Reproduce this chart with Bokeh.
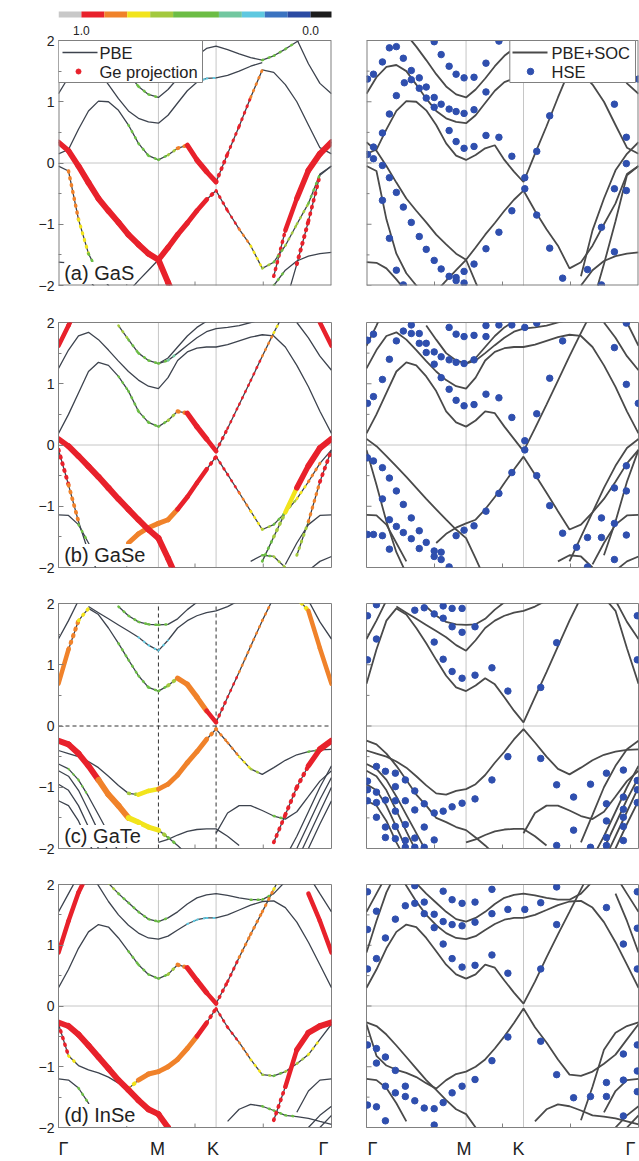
import math
import numpy as np
from bokeh.plotting import figure
from bokeh.layouts import column, row
from bokeh.models import Label, FixedTicker, Range1d, ColumnDataSource, CustomJSTickFormatter
from bokeh.embed import file_html
from bokeh.resources import INLINE

NA = None

# ---------------- k path (Gamma - M - K - Gamma) ----------------
K_PATH = [0.0, 0.1, 0.2, 0.3, 0.4, 0.5, 0.6, 0.7, 0.8, 0.9, 1.0,
          1.096, 1.192, 1.289, 1.385, 1.481, 1.577,
          1.692, 1.808, 1.923, 2.039, 2.154, 2.270, 2.385, 2.501, 2.616, 2.732]
K_SYM = [0.0, 1.0, 1.577, 2.732]
K_SYM_LABELS = ["Γ", "M", "K", "Γ"]
K_END = 2.732
X_TICKS = [0.683, 1.366, 2.049]
Y_TICKS = [-2, -1, 0, 1, 2]
Y_MINOR = [-1.5, -0.5, 0.5, 1.5]

# colour bar (Ge projection weight)
CBAR_COLORS = ["#c8c8c8", "#e8212b", "#f0822a", "#f2e41c", "#a3c93e", "#6cbd45",
               "#72c7a0", "#5ec8e0", "#3b73c0", "#2b4aa2", "#1c1c1c"]
CBAR_UNITS = [1, 1, 1, 1, 1, 2, 1, 1, 1, 1, 1]
CBAR_EDGES = [0.9, 0.8, 0.7, 0.6, 0.4, 0.3, 0.2, 0.1, 0.0]
CBAR_LABELS = ["1.0", "0.0"]

PANEL_LABELS = ["(a) GaS", "(b) GaSe", "(c) GaTe", "(d) InSe"]

# band = [start index on K_PATH, energies, Ge weight (colour), dot size]
# ---------------- GaS ----------------
GAS_VB1 = [0, [0.34, 0.2, -0.05, -0.32, -0.58, -0.78, -0.97, -1.17, -1.33, -1.48, -1.58,
               -1.38, -1.17, -0.98, -0.78, -0.6, -0.45,
               -0.78, -1.08, -1.35, -1.72, -1.62, -1.35, -1.0, -0.66, -0.18, -0.05],
           [1, 1, 1, 1, 1, 1, 1, 1, 1, 1, 1, 1, 1, 1, 1, 1, 1,
            0.95, 0.9, 0.85, 0.72, 0.6, 0.55, 0.7, 0.55, 0.5, NA],
           [5, 5.5, 6, 6, 6, 6, 6, 6, 6, 6, 6, 5.5, 5.5, 5, 5, 4.5, 3.5,
            2.5, 2.5, 2.5, 2.5, 2.5, 2.5, 2.5, 2.5, 2.5, NA]]
GAS_VB0R = [21, [-1.85, -1.1, -0.58, -0.12, 0.15, 0.34], [0.85, 0.95, 1, 1, 1, 1], [3, 4, 5, 6, 6, 6]]
GAS_VB2 = [0, [-0.05, -0.13, -0.92, -1.48, -1.8, -2.0, -2.2],
           [NA, 0.85, 0.85, 0.6, 0.5, NA, NA], [NA, 3.5, 3.5, 3, 2.5, NA, NA]]
GAS_VB2R = [22, [-2.3, -1.65, -0.95, -0.2, -0.05], [NA, 0.85, 1, 1, NA], [NA, 4, 4, 3.5, NA]]
GAS_VB3 = [0, [-1.62, -1.63, -1.72, -1.9, -2.1], None, None]
GAS_VB3R = [21, [-2.0, -1.75, -1.6, -1.52, -1.48, -1.46], [0.6, 0.55, NA, NA, NA, NA], [2.5, 2.5, NA, NA, NA, NA]]
GAS_VB4 = [7, [-2.1, -1.92, -1.75, -1.58, -1.95, -2.3], [NA, NA, NA, 1, 1, 1], [NA, NA, NA, 6, 6, 6]]
GAS_CB1 = [0, [0.15, 0.22, 0.55, 0.85, 1.01, 1.0, 0.86, 0.62, 0.32, 0.12, 0.05,
               0.13, 0.24, 0.29, 0.05, -0.14, -0.31,
               0.15, 0.6, 1.07, 1.52, 1.48, 1.28, 1.0, 0.62, 0.25, 0.15],
           [NA, NA, NA, NA, NA, NA, NA, 0.5, 0.5, 0.55, 0.55, 0.6, 0.75, 0.88, 1, 1, 1,
            1, 1, 0.9, 0.75, NA, NA, NA, NA, NA, NA],
           [NA, NA, NA, NA, NA, NA, NA, 2.5, 2.5, 2.5, 2.5, 2.5, 3, 4.5, 5.5, 5.5, 4.5,
            3, 3, 3, 2.5, NA, NA, NA, NA, NA, NA]]
GAS_CB2 = [0, [1.13, 1.4, 1.57, 1.6, 1.5, 1.28, 1.05, 0.85, 0.73, 0.67, 0.65,
               0.78, 0.98, 1.18, 1.32, 1.38, 1.39, 1.43, 1.5, 1.58, 1.64],
           [NA] * 14 + [0.25, 0.25, 0.25, NA, NA, NA, NA],
           [NA] * 14 + [2, 2, 2, NA, NA, NA, NA]]
GAS_CB2R = [22, [2.3, 2.02, 1.62, 1.3, 1.13], None, None]
GAS_CB3 = [4, [2.1, 1.9, 1.68, 1.45, 1.25, 1.12, 1.07, 1.2, 1.38, 1.58, 1.75, 1.87, 1.91,
               1.85, 1.78, 1.72, 1.68, 1.75, 1.86, 1.98, 2.1],
           [0.5] * 7 + [NA] * 9 + [0.5, 0.5, 0.5, 0.5, NA],
           [2.5] * 7 + [NA] * 9 + [2.5, 2.5, 2.5, 2.5, NA]]
GAS_HSE = [(0.01, 1.37), (0.07, 1.45), (0.16, 1.65), (0.23, 1.88), (0.30, 1.90), (0.37, 1.71),
           (0.45, 1.51), (0.45, 1.36), (0.53, 1.39), (0.38, 1.31), (0.30, 1.10), (0.53, 1.22),
           (0.60, 1.24), (0.60, 1.06), (0.68, 1.07), (0.68, 1.98), (0.75, 1.77), (0.83, 1.58),
           (0.90, 1.45), (0.98, 1.39), (1.08, 1.40), (1.20, 1.63), (1.33, 1.99),
           (0.68, 0.91), (0.75, 0.96), (0.83, 0.88), (0.90, 0.84), (0.98, 0.81), (1.08, 0.87),
           (1.20, 1.16), (0.23, 0.80), (0.16, 0.49), (0.83, 0.53), (0.90, 0.35), (0.98, 0.24),
           (1.08, 0.27), (1.20, 0.45), (1.33, 0.42), (1.46, 0.11), (1.71, 0.19), (1.84, 0.77),
           (2.49, 0.96), (2.61, 0.42),
           (0.01, 0.14), (0.07, 0.26), (0.16, -0.04), (0.23, -0.24), (0.16, -0.61), (0.30, -0.48),
           (0.37, -0.72), (0.45, -0.97), (0.53, -1.20), (0.60, -1.41), (0.68, -1.59), (0.75, -1.73),
           (0.83, -1.85), (0.90, -1.87), (0.90, -1.92), (0.98, -1.77), (0.98, -1.96), (1.08, -1.65),
           (1.20, -1.40), (1.33, -1.13), (1.46, -0.78), (1.59, -0.42), (1.59, -0.24), (1.71, -0.85),
           (1.84, -1.39), (1.97, -1.88), (2.22, -1.74), (2.36, -1.05), (2.49, -1.45), (2.49, -0.42),
           (2.61, -0.45), (2.61, -0.01), (2.73, 1.37), (0.23, -1.23), (0.30, -1.75), (0.37, -1.99),
           (2.36, -1.99), (0.07, 0.07)]

# ---------------- GaSe ----------------
GASE_VB1 = [0, [0.1, -0.02, -0.18, -0.35, -0.52, -0.7, -0.88, -1.05, -1.22, -1.38, -1.52, -1.85, -2.2],
            [1] * 13, [5, 6, 6, 6, 6, 6, 6, 6, 6, 6, 6, 6, 6]]
GASE_VBMK = [7, [-1.6, -1.45, -1.35, -1.28, -1.22, -1.05, -0.85, -0.62, -0.4, -0.19,
                 -0.48, -0.78, -1.08, -1.38, -1.3, -1.1, -0.88, -0.6, -0.3, -0.08],
             [0.85, 0.85, 0.85, 0.85, 0.85, 0.85, 1, 1, 1, 1,
              1, 0.9, 0.85, 0.72, 0.55, 0.55, 0.72, 0.85, 0.9, NA],
             [5, 5, 5, 5, 5, 5, 4.5, 4.5, 4.5, 3,
              2.5, 2.5, 2.5, 2.5, 2.5, 2.5, 2.5, 3, 3, NA]]
GASE_VB0R = [20, [-1.9, -1.5, -1.1, -0.7, -0.34, -0.05, 0.1],
             [0.5, 0.55, 0.72, 0.85, 1, 1, 1], [2.5, 3, 4, 5, 6, 6, 6]]
GASE_VB2 = [0, [-0.08, -0.65, -1.25, -1.75, -2.1], [1, 1, 0.72, NA, NA], [4, 4, 3.5, NA, NA]]
GASE_VB2R = [23, [-1.8, -1.25, -0.6, -0.08], [0.55, 0.72, 0.9, 1], [3, 3, 3.5, 4]]
GASE_VB3 = [0, [-1.14, -1.15, -1.3, -1.6, -1.9], [NA, NA, 0.5, 0.5, NA], [NA, NA, 2.5, 2.5, NA]]
GASE_VB3R = [22, [-1.95, -1.6, -1.3, -1.15, -1.14], None, None]
GASE_VB5 = [19, [-1.9, -1.8, -1.82, -2.0], [NA, 0.55, 0.55, 0.72], [NA, 2.5, 2.5, 2.5]]
GASE_VB6 = [24, [-2.05, -1.9, -1.82], None, None]
GASE_CB1 = [0, [0.19, 0.5, 0.85, 1.2, 1.35, 1.3, 1.12, 0.88, 0.55, 0.37, 0.3,
                0.4, 0.55, 0.52, 0.3, 0.1, -0.1, 0.27, 0.66, 1.05, 1.45, 1.83, 2.2],
            [NA] * 6 + [0.35, 0.5, 0.5, 0.5, 0.5, 0.55, 0.72, 0.9, 1, 1, 1, 1, 1, 1, 0.9, 0.85, 0.55],
            [NA] * 6 + [2, 2.5, 2.5, 2.5, 2.5, 2.5, 3.5, 5, 5.5, 5.5, 4, 2.5, 2.5, 2.5, 2.5, 2.5, 2.5]]
GASE_CB2 = [0, [1.25, 1.55, 1.78, 1.84, 1.72, 1.55, 1.37, 1.2, 1.06, 0.96, 0.92,
                1.1, 1.38, 1.52, 1.58, 1.6, 1.6, 1.64, 1.7, 1.76, 1.8, 1.78, 1.6, 1.3, 0.95, 0.55, 0.19],
            None, None]
GASE_CB2R = [23, [2.0, 1.75, 1.45, 1.22], None, None]
GASE_CB3 = [6, [1.95, 1.72, 1.5, 1.38, 1.33, 1.38, 1.5, 1.63, 1.75, 1.85, 1.9, 1.92, 1.95, 2.0, 2.05],
            [0.75, 0.6, 0.5, 0.5, 0.5, 0.4, 0.35] + [NA] * 8, [2.5] * 7 + [NA] * 8]
GASE_CB4 = [10, [1.33, 1.42, 1.6, 1.78, 1.92, 2.02, 2.1], None, None]
GASE_CB5 = [0, [1.62, 1.95, 2.3], [1, 1, 1], [4.5, 4.5, 4.5]]
GASE_CB5R = [25, [2.0, 1.62], [1, 1], [4.5, 4.5]]
GASE_HSE = [(0.01, 1.71), (0.07, 1.81), (0.16, 1.07), (0.23, 1.40), (0.30, 1.70), (0.37, 1.86),
            (0.45, 1.96), (0.45, 1.82), (0.53, 1.82), (0.53, 1.66), (0.60, 1.66), (0.60, 1.51),
            (0.68, 1.52), (0.68, 1.32), (0.75, 1.44), (0.75, 1.10), (0.83, 1.39), (0.83, 1.92),
            (0.90, 1.35), (0.90, 1.81), (0.98, 1.33), (0.98, 1.77), (1.08, 1.39), (1.08, 1.79),
            (1.20, 1.95), (1.20, 1.77), (1.33, 1.96), (1.46, 1.96), (1.59, 1.92), (1.71, 1.99),
            (1.97, 1.70), (1.84, 1.09), (2.49, 1.59), (2.61, 1.99), (2.61, 0.99), (2.73, 0.68),
            (0.07, 0.79), (0.01, 0.68), (0.83, 0.91), (0.90, 0.73), (0.98, 0.64), (1.08, 0.66),
            (1.20, 0.83), (1.33, 0.77), (1.46, 0.45), (1.71, 0.51), (1.59, 0.07), (1.59, -0.08),
            (0.01, -0.21), (0.07, -0.26), (0.16, -0.37), (0.23, -0.54), (0.30, -0.75), (0.16, -0.88),
            (0.37, -0.97), (0.45, -1.19), (0.53, -1.40), (0.60, -1.59), (0.68, -1.73), (0.75, -1.75),
            (0.75, -1.87), (0.83, -1.99), (0.68, -1.82), (0.23, -1.22), (0.30, -1.33), (0.37, -1.43),
            (0.45, -1.53), (0.53, -1.69), (0.23, -1.70), (0.01, -1.46), (0.07, -1.46), (0.16, -1.48),
            (0.90, -1.48), (0.98, -1.39), (1.08, -1.32), (1.20, -1.08), (1.33, -0.79), (1.46, -0.45),
            (1.71, -0.50), (1.84, -0.99), (1.97, -1.44), (2.11, -1.67), (2.22, -1.51), (2.22, -1.99),
            (2.36, -1.51), (2.36, -1.19), (2.49, -0.70), (2.49, -1.28), (2.49, -1.87), (2.61, -0.75),
            (2.61, -0.34), (2.61, -1.47)]

# ---------------- GaTe ----------------
GATE_CB1 = [0, [0.69, 1.25, 1.72, 1.92, 1.82, 1.6, 1.35, 1.08, 0.82, 0.63, 0.57,
                0.66, 0.78, 0.68, 0.47, 0.25, 0.06, 0.47, 0.88, 1.3, 1.72, 2.1],
            [0.85, 0.85, 0.8, 0.72, NA, NA, 0.4, 0.5, 0.5, 0.5, 0.5, 0.55, 0.8, 0.85, 0.85, 0.9, 1,
             1, 0.85, 0.85, 0.85, 0.85],
            [4.5, 4.5, 4, 3, NA, NA, 2.5, 2.5, 2.5, 2.5, 2.5, 2.5, 5, 5.5, 5.5, 5, 4,
             2.5, 2.5, 2.5, 2.5, 2.5]]
GATE_CB1R = [23, [2.1, 1.88, 1.27, 0.69], [0.72, 0.85, 0.85, 0.85], [4, 4.5, 4.5, 4.5]]
GATE_CB2 = [0, [1.42, 1.72, 2.05], None, None]
GATE_CB2R = [24, [2.05, 1.7, 1.42], None, None]
GATE_CB3 = [3, [1.95, 1.85, 1.75, 1.65, 1.55, 1.45, 1.32, 1.23, 1.4, 1.6, 1.72, 1.8, 1.85, 1.88, 1.95, 2.05],
            [NA] * 5 + [0.3, 0.25, 0.25, 0.3] + [NA] * 7, [NA] * 5 + [2, 2, 2, 2] + [NA] * 7]
GATE_CB4 = [6, [1.95, 1.8, 1.7, 1.66, 1.65, 1.66, 1.75, 1.9, 2.02], [0.5] * 6 + [NA] * 3, [2.5] * 6 + [NA] * 3]
GATE_VB1 = [0, [-0.24, -0.3, -0.45, -0.65, -0.88, -1.12, -1.3, -1.5, -1.57, -1.65, -1.7, -1.82, -1.95, -2.1],
            [1, 1, 1, 1, 0.85, 0.85, 0.85, 0.75, 0.75, 0.75, 0.72, 0.55, 0.5, NA],
            [6, 6, 6, 6, 6, 6, 6, 6, 5, 5, 5, 3, 3, NA]]
GATE_VB2 = [0, [-0.4, -0.45, -0.5, -0.58, -0.68, -0.82, -0.97, -1.1, -1.12, -1.06, -1.03,
                -0.95, -0.8, -0.6, -0.42, -0.22, -0.05,
                -0.27, -0.5, -0.7, -0.79, -0.68, -0.56, -0.47, -0.42, -0.39, -0.38],
            [NA] * 7 + [0.55, 0.75, 0.75, 0.75, 0.85, 0.85, 0.85, 0.85, 0.85, 0.9, 0.85, 0.8, 0.72, 0.55,
                        NA, NA, NA, 0.5, 0.3, NA],
            [NA] * 7 + [2.5, 4.5, 4.5, 4.5, 5, 5, 5, 5, 5, 3, 2.5, 2.5, 2.5, 2.5,
                        NA, NA, NA, 2.5, 2.5, NA]]
GATE_VB1R = [21, [-1.9, -1.45, -1.0, -0.65, -0.38, -0.24], [0.85, 1, 1, 1, 1, 1], [3.5, 4, 4, 4.5, 6, 6]]
GATE_VB3 = [16, [-1.75, -1.42, -1.3, -1.3, -1.38, -1.47, -1.52, -1.4, -1.15, -0.9, -0.73],
            [NA] * 5 + [0.5, 0.5] + [NA] * 4, [NA] * 5 + [2.5, 2.5] + [NA] * 4]
GATE_VB4 = [10, [-1.9, -1.85, -1.78, -1.72, -1.69, -1.68, -1.68, -1.8, -1.95], None, None]
GATE_VB5 = [0, [-0.62, -0.7, -0.88, -1.15, -1.45, -1.75, -2.05], [NA, 0.5, 0.5, 0.5, NA, NA, NA],
            [NA, 2, 2, 2, NA, NA, NA]]
GATE_VB6 = [0, [-0.73, -0.82, -1.05, -1.38, -1.72, -2.05], None, None]
GATE_VB7 = [0, [-0.95, -1.05, -1.3, -1.65, -2.0], None, None]
GATE_VB8 = [0, [-1.22, -1.3, -1.55, -1.9, -2.2], None, None]
GATE_VB5R = [22, [-2.15, -1.8, -1.4, -1.0, -0.65], None, None]
GATE_VB6R = [23, [-2.0, -1.6, -1.2, -0.84], None, None]
GATE_VB7R = [23, [-2.2, -1.8, -1.4, -1.0], None, None]
GATE_VB8R = [24, [-2.0, -1.6, -1.22], None, None]
GATE_HSE = [(0.01, 1.80), (0.10, 1.98), (0.01, 1.08), (0.10, 1.42), (0.485, 1.89), (0.58, 1.93),
            (0.68, 1.83), (0.77, 1.96), (0.77, 1.76), (0.86, 1.92), (0.96, 1.92), (0.86, 1.62),
            (0.96, 1.53), (1.09, 1.62), (0.68, 1.37), (0.77, 1.09), (0.86, 0.89), (0.96, 0.78),
            (1.09, 0.83), (1.26, 0.95), (1.42, 0.57), (1.75, 0.63), (1.91, 1.36), (2.72, 1.80),
            (2.72, 1.08),
            (0.01, -0.90), (0.01, -1.04), (0.01, -1.22), (0.10, -0.66), (0.10, -1.08), (0.10, -1.25),
            (0.10, -1.49), (0.19, -0.74), (0.19, -1.21), (0.19, -1.65), (0.19, -1.82), (0.29, -0.77),
            (0.29, -0.99), (0.29, -1.22), (0.29, -1.39), (0.29, -1.64), (0.29, -1.84), (0.39, -0.88),
            (0.39, -1.22), (0.39, -1.61), (0.39, -1.87), (0.39, -1.98), (0.485, -1.06), (0.485, -1.37),
            (0.485, -1.83), (0.485, -1.98), (0.58, -1.27), (0.58, -1.65), (0.58, -1.98), (0.68, -1.42),
            (0.68, -1.86), (0.77, -1.39), (0.86, -1.32), (0.96, -1.26), (1.09, -1.19), (1.26, -0.88),
            (1.42, -0.50), (1.75, -0.53), (1.91, -0.96), (2.08, -1.16), (2.08, -1.70), (2.25, -0.95),
            (1.91, -1.95), (2.25, -1.98), (2.41, -0.77), (2.41, -1.27), (2.41, -1.55), (2.41, -1.82),
            (2.41, -1.95), (2.58, -0.72), (2.58, -1.16), (2.58, -1.36), (2.58, -1.49), (2.58, -1.64),
            (2.58, -1.87), (2.72, -0.89), (2.72, -1.04), (2.72, -1.25)]

# ---------------- InSe ----------------
INSE_CB1 = [0, [0.3, 0.6, 0.95, 1.22, 1.34, 1.3, 1.12, 0.9, 0.68, 0.52, 0.45,
                0.52, 0.68, 0.63, 0.42, 0.22, 0.04, 0.4, 0.8, 1.18, 1.55, 1.92, 2.3],
            [NA] * 7 + [0.5, 0.5, 0.5, 0.5, 0.55, 0.72, 0.95, 1, 1, 1, 1, 0.9, 0.85, 0.85, 0.85, 0.72],
            [NA] * 7 + [2.5, 2.5, 2.5, 2.5, 2.5, 3.5, 5, 5.5, 5, 4, 3, 3, 3, 3, 3, 3]]
INSE_CB2 = [3, [2.25, 1.98, 1.72, 1.5, 1.33, 1.2, 1.12, 1.1, 1.15, 1.25, 1.35, 1.42, 1.45,
                1.45, 1.5, 1.58, 1.66, 1.72, 1.73, 1.62, 1.38, 1.05, 0.68, 0.3],
            [NA] * 10 + [0.25, 0.25, 0.25, 0.25] + [NA] * 10,
            [NA] * 10 + [2, 2, 2, 2] + [NA] * 10]
INSE_CB3 = [5, [2.02, 1.85, 1.7, 1.55, 1.43, 1.39, 1.45, 1.55, 1.68, 1.78, 1.83, 1.85,
                1.82, 1.78, 1.75, 1.75, 1.85, 2.05],
            [0.75, 0.5, 0.5, 0.5, 0.5, 0.5, 0.45] + [NA] * 7 + [0.5, 0.5, 0.5, NA],
            [2.5] * 7 + [NA] * 7 + [2.5, 2.5, 2.5, NA]]
INSE_CBG = [0, [0.88, 1.4, 1.87, 2.2], [0.85, 1, 1, 1], [4.5, 4.5, 4.5, 4.5]]
INSE_CBGR = [24, [1.85, 1.4, 0.88], [1, 1, 0.85], [4.5, 4.5, 4.5]]
INSE_CBG2 = [0, [1.55, 1.85, 2.15], None, None]
INSE_CBG2R = [24, [2.15, 1.85, 1.55], None, None]
INSE_VB1 = [0, [-0.27, -0.33, -0.47, -0.65, -0.84, -1.03, -1.22, -1.38, -1.55, -1.7, -1.78, -2.0, -2.3],
            [1] * 13, [5, 6, 6, 6, 6, 6, 6, 6, 6, 6, 6, 6, 6]]
INSE_VB2 = [0, [-0.3, -0.82, -0.98, -1.05, -1.1, -1.17, -1.27, -1.36, -1.22, -1.12, -1.08,
                -1.0, -0.88, -0.7, -0.5, -0.28, -0.04,
                -0.35, -0.6, -0.88, -1.13, -1.15, -1.08, -0.95, -0.8, -0.55, -0.3],
            [1, 0.85, 0.6, NA, NA, NA, NA, 0.6, 0.85, 0.85, 0.85, 0.85, 0.85, 0.85, 0.85, 0.95, 1,
             1, 0.85, 0.8, 0.72, 0.55, 0.5, 0.72, 0.55, 0.85, NA],
            [3.5, 3.5, 2.5, NA, NA, NA, NA, 3, 5, 5, 5, 5, 5, 5, 5, 4.5, 3,
             2.5, 2.5, 2.5, 2.5, 2.5, 2.5, 2.5, 2.5, 2.5, NA]]
INSE_VB1R = [21, [-1.88, -1.33, -0.72, -0.44, -0.33, -0.27], [0.85, 1, 1, 1, 1, 1], [3.5, 4, 5, 6, 6, 6]]
INSE_VB3 = [0, [-1.2, -1.22, -1.35, -1.6, -1.9], [NA, NA, 0.5, 0.5, NA], [NA, NA, 2.5, 2.5, NA]]
INSE_VB3R = [23, [-1.75, -1.4, -1.22, -1.2], None, None]
INSE_VB4 = [17, [-1.9, -1.7, -1.62, -1.65, -1.72, -1.8, -1.82, -1.85, -1.9, -1.95],
            [NA, NA, NA, 0.5, 0.5, 0.5, 0.5, NA, NA, NA], [NA] * 3 + [2.5] * 4 + [NA] * 3]
INSE_VB5 = [24, [-2.0, -1.8, -1.65], None, None]
INSE_VB6 = [25, [-2.0, -1.8], None, None]
INSE_HSE = [(0.01, 1.88), (0.10, 1.56), (0.01, 1.26), (0.19, 1.12), (0.29, 1.43), (0.39, 1.65),
            (0.485, 1.69), (0.485, 1.98), (0.58, 1.71), (0.58, 1.52), (0.68, 1.51), (0.68, 1.29),
            (0.77, 1.39), (0.77, 1.89), (0.86, 1.75), (0.86, 1.34), (0.96, 1.69), (0.96, 1.32),
            (1.09, 1.71), (1.09, 1.38), (1.26, 1.92), (1.26, 1.52), (1.42, 1.59), (1.59, 1.59),
            (1.75, 1.70), (1.91, 1.34), (1.91, 1.96), (2.41, 1.62), (2.58, 1.02), (2.72, 1.88),
            (2.72, 1.28), (0.01, 0.61), (0.10, 0.78), (0.77, 1.02), (0.86, 0.78), (0.96, 0.64),
            (1.09, 0.67), (1.26, 0.84), (1.42, 0.54), (1.75, 0.61), (2.72, 0.61),
            (0.01, -0.64), (0.10, -0.70), (0.19, -0.84), (0.10, -0.94), (0.29, -1.06), (0.19, -1.32),
            (0.29, -1.43), (0.39, -1.32), (0.39, -1.49), (0.485, -1.56), (0.58, -1.68), (0.68, -1.69),
            (0.68, -1.96), (0.77, -1.59), (0.86, -1.43), (0.96, -1.32), (1.09, -1.21), (1.26, -0.90),
            (1.42, -0.51), (1.75, -0.58), (1.91, -1.13), (2.08, -1.51), (2.25, -1.49), (2.41, -1.26),
            (2.41, -1.49), (2.58, -0.79), (2.58, -1.22), (2.58, -1.81), (2.72, -0.64), (2.72, -1.07),
            (2.72, -1.41), (0.01, -1.63), (0.10, -1.66), (0.19, -1.89)]

GAS_BANDS = [GAS_VB3, GAS_VB3R, GAS_CB2, GAS_CB2R, GAS_CB3, GAS_VB4, GAS_VB2, GAS_VB2R,
             GAS_VB0R, GAS_CB1, GAS_VB1]
GASE_BANDS = [GASE_VB3, GASE_VB3R, GASE_VB5, GASE_VB6, GASE_CB2, GASE_CB2R, GASE_CB3, GASE_CB4,
              GASE_CB5, GASE_CB5R, GASE_VB2, GASE_VB2R, GASE_VB0R, GASE_VBMK, GASE_CB1, GASE_VB1]
GATE_BANDS = [GATE_VB8, GATE_VB7, GATE_VB6, GATE_VB5, GATE_VB8R, GATE_VB7R, GATE_VB6R, GATE_VB5R,
              GATE_VB4, GATE_VB3, GATE_CB2, GATE_CB2R, GATE_CB3, GATE_CB4, GATE_CB1R, GATE_VB1R,
              GATE_VB2, GATE_CB1, GATE_VB1]
INSE_BANDS = [INSE_VB6, INSE_VB5, INSE_VB4, INSE_VB3, INSE_VB3R, INSE_CBG2, INSE_CBG2R, INSE_CB2,
              INSE_CB3, INSE_CBG, INSE_CBGR, INSE_VB1R, INSE_VB2, INSE_CB1, INSE_VB1]

MATERIALS = [(GAS_BANDS, GAS_HSE), (GASE_BANDS, GASE_HSE), (GATE_BANDS, GATE_HSE), (INSE_BANDS, INSE_HSE)]

# ---------------- layout constants ----------------
FRAME_H = 245
TOP_EXT = 40            # colour-bar strip above the first row
TOP_B = [40, 8, 8, 8]
BOTTOM_B = [29, 28, 28, 32]
FONT = "Liberation Sans"
TXT = "#222222"
AX = "#808080"
HSE_COLOR = "#2f4fae"


def wcolor(w):
    if w > 1.0:
        return CBAR_COLORS[0]
    for i, e in enumerate(CBAR_EDGES):
        if w >= e - 1e-9:
            return CBAR_COLORS[i + 1]
    return CBAR_COLORS[-1]


def px_k(px, fw):
    return px * K_END / fw


def px_e(py):
    return 2.0 - py * 4.0 / FRAME_H


def make_panel(r, left):
    bands, hse = MATERIALS[r]
    fw = 273 if left else 272
    ext = (r == 0)
    height = TOP_B[r] + FRAME_H + BOTTOM_B[r]
    y_top = px_e(-TOP_EXT) if ext else 2.0
    p = figure(width=333 if left else 306, height=height,
               x_range=Range1d(0, K_END), y_range=Range1d(-2, y_top),
               toolbar_location=None, output_backend="svg", title=None,
               x_axis_location="below" if r == 3 else None,
               y_axis_location="left" if left else None,
               min_border_left=58 if left else 33, min_border_right=2 if left else 1,
               min_border_top=0 if ext else TOP_B[r], min_border_bottom=BOTTOM_B[r])
    p.grid.visible = False
    p.background_fill_color = "white"
    p.border_fill_color = "white"
    p.outline_line_color = None if ext else AX
    p.outline_line_width = 1

    if left:
        ya = p.yaxis[0]
        ya.ticker = FixedTicker(ticks=Y_TICKS, minor_ticks=Y_MINOR)
        ya.major_tick_in = 5
        ya.major_tick_out = 0
        ya.minor_tick_in = 3
        ya.minor_tick_out = 0
        ya.axis_line_color = None if ext else AX
        ya.major_tick_line_color = AX
        ya.minor_tick_line_color = AX
        ya.major_label_text_font_size = "14px"
        ya.major_label_text_font = FONT
        ya.major_label_text_color = TXT
        ya.major_label_standoff = 4
        p.add_layout(Label(x=px_k(-36, fw), y=0.0, text="Energy (eV)", angle=math.pi / 2,
                           text_font=FONT, text_font_size="21px", text_color=TXT,
                           text_align="center", text_baseline="middle"))
    else:
        p.segment([0] * 5, Y_TICKS, [px_k(5, fw)] * 5, Y_TICKS, line_color=AX, line_width=1)
        p.segment([0] * 4, Y_MINOR, [px_k(3, fw)] * 4, Y_MINOR, line_color=AX, line_width=1)
    p.segment(X_TICKS, [-2] * 3, X_TICKS, [px_e(FRAME_H - 4)] * 3, line_color=AX, line_width=1)

    # high-symmetry labels on the last row's axis
    if r == 3:
        offs = [5, -1, -3, -8] if left else [6, -2, -5, -8]
        pos = [round(k + px_k(o, fw), 4) for k, o in zip(K_SYM, offs)]
        xa = p.xaxis[0]
        xa.ticker = FixedTicker(ticks=pos, minor_ticks=[])
        xa.formatter = CustomJSTickFormatter(args=dict(labels=K_SYM_LABELS), code="return labels[index];")
        xa.major_tick_in = 0
        xa.major_tick_out = 0
        xa.minor_tick_in = 0
        xa.minor_tick_out = 0
        xa.major_tick_line_color = None
        xa.minor_tick_line_color = None
        xa.axis_line_color = AX
        xa.major_label_text_font = FONT
        xa.major_label_text_font_size = "18px"
        xa.major_label_text_color = TXT
        xa.major_label_standoff = 11

    # guide lines at M, K and E = 0
    if left and r == 2:
        gcol, gdash = "#333333", "4 3"
    else:
        gcol, gdash = "#8c8c8c", "1 1"
    for k in K_SYM[1:3]:
        p.line([k, k], [-2, 2], line_color=gcol, line_dash=gdash, line_width=1)
    p.line([0, K_END], [0, 0], line_color=gcol, line_dash=gdash, line_width=1)

    lcol = "#3d434e" if left else "#4a4a4a"
    lw = 1.3 if left else 1.8
    for start, es, ws, ss in bands:
        ks = K_PATH[start:start + len(es)]
        ys = [np.nan if e is None else e for e in es]
        p.line(ks, ys, line_color=lcol, line_width=lw)

    if left:
        solid = dict(x0=[], y0=[], x1=[], y1=[], c=[], lw=[])
        dotted = dict(x0=[], y0=[], x1=[], y1=[], c=[], lw=[])
        for start, es, ws, ss in bands:
            if ws is None:
                continue
            for i in range(len(es) - 1):
                if ws[i] is None or ws[i + 1] is None or es[i] is None or es[i + 1] is None:
                    continue
                w = 0.5 * (ws[i] + ws[i + 1])
                s = 0.5 * (ss[i] + ss[i + 1])
                tgt = solid if s >= 4.5 else dotted
                tgt["x0"].append(K_PATH[start + i])
                tgt["y0"].append(es[i])
                tgt["x1"].append(K_PATH[start + i + 1])
                tgt["y1"].append(es[i + 1])
                tgt["c"].append(wcolor(w))
                tgt["lw"].append(s)
        p.segment("x0", "y0", "x1", "y1", source=ColumnDataSource(dotted), line_color="c",
                  line_width="lw", line_cap="round", line_dash="1 6")
        p.segment("x0", "y0", "x1", "y1", source=ColumnDataSource(solid), line_color="c",
                  line_width="lw", line_cap="round")
        p.add_layout(Label(x=px_k(5.7, fw), y=px_e(FRAME_H - 12.5), text=PANEL_LABELS[r], text_font=FONT,
                           text_font_size="20px", text_color=TXT, text_baseline="middle",
                           background_fill_color="white", background_fill_alpha=1.0))
    else:
        hk = [a for a, b in hse]
        he = [b for a, b in hse]
        p.scatter(hk, he, size=6.5, fill_color=HSE_COLOR, line_color=HSE_COLOR)

    if ext:
        # white strip above the frame hides anything beyond E = 2, then frame box
        p.quad(left=[0], right=[K_END], bottom=[2.0], top=[y_top], fill_color="white", line_color=None)
        p.segment([0, K_END, 0, 0], [-2, -2, 2, -2], [0, K_END, K_END, K_END], [2, 2, 2, -2],
                  line_color=AX, line_width=[2, 2, 1, 2])
        if left:
            edges = [0.0]
            for u in CBAR_UNITS:
                edges.append(edges[-1] + u * 22.92)
            p.quad(left=[px_k(e, fw) for e in edges[:-1]], right=[px_k(e, fw) for e in edges[1:]],
                   top=[px_e(-29)] * len(CBAR_COLORS), bottom=[px_e(-23)] * len(CBAR_COLORS),
                   fill_color=CBAR_COLORS, line_color=None)
            for lab, xe in zip(CBAR_LABELS, [edges[1], edges[-2]]):
                p.add_layout(Label(x=px_k(xe, fw), y=px_e(-10.3), text=lab, text_font=FONT,
                                   text_font_size="12px", text_color=TXT, text_align="center",
                                   text_baseline="middle"))

    # legends (first row)
    if r == 0:
        if left:
            bx0, bx1, lx0, lx1, tx, dx = 0, 144, 4, 39, 41, 20
            names = ["PBE", "Ge projection"]
            dcol, dsize = CBAR_COLORS[1], 5
        else:
            bx0, bx1, lx0, lx1, tx, dx = 143.3, 269, 146, 181, 185, 164
            names = ["PBE+SOC", "HSE"]
            dcol, dsize = HSE_COLOR, 6.5
        p.quad(left=[px_k(bx0, fw)], right=[px_k(bx1, fw)], top=[2.0], bottom=[px_e(42)],
               fill_color="white", line_color=AX, line_width=1)
        p.line([px_k(lx0, fw), px_k(lx1, fw)], [px_e(12), px_e(12)], line_color=lcol, line_width=lw)
        p.scatter([px_k(dx, fw)], [px_e(31)], size=dsize, fill_color=dcol, line_color=dcol)
        for name, yy in zip(names, [12, 31]):
            p.add_layout(Label(x=px_k(tx, fw), y=px_e(yy), text=name, text_font=FONT,
                               text_font_size="16.5px", text_color=TXT, text_baseline="middle"))
    return p


rows = []
for r in range(4):
    rows.append(row(make_panel(r, True), make_panel(r, False)))
layout = column(*rows)

open("out.html", "w").write(file_html(layout, INLINE))
